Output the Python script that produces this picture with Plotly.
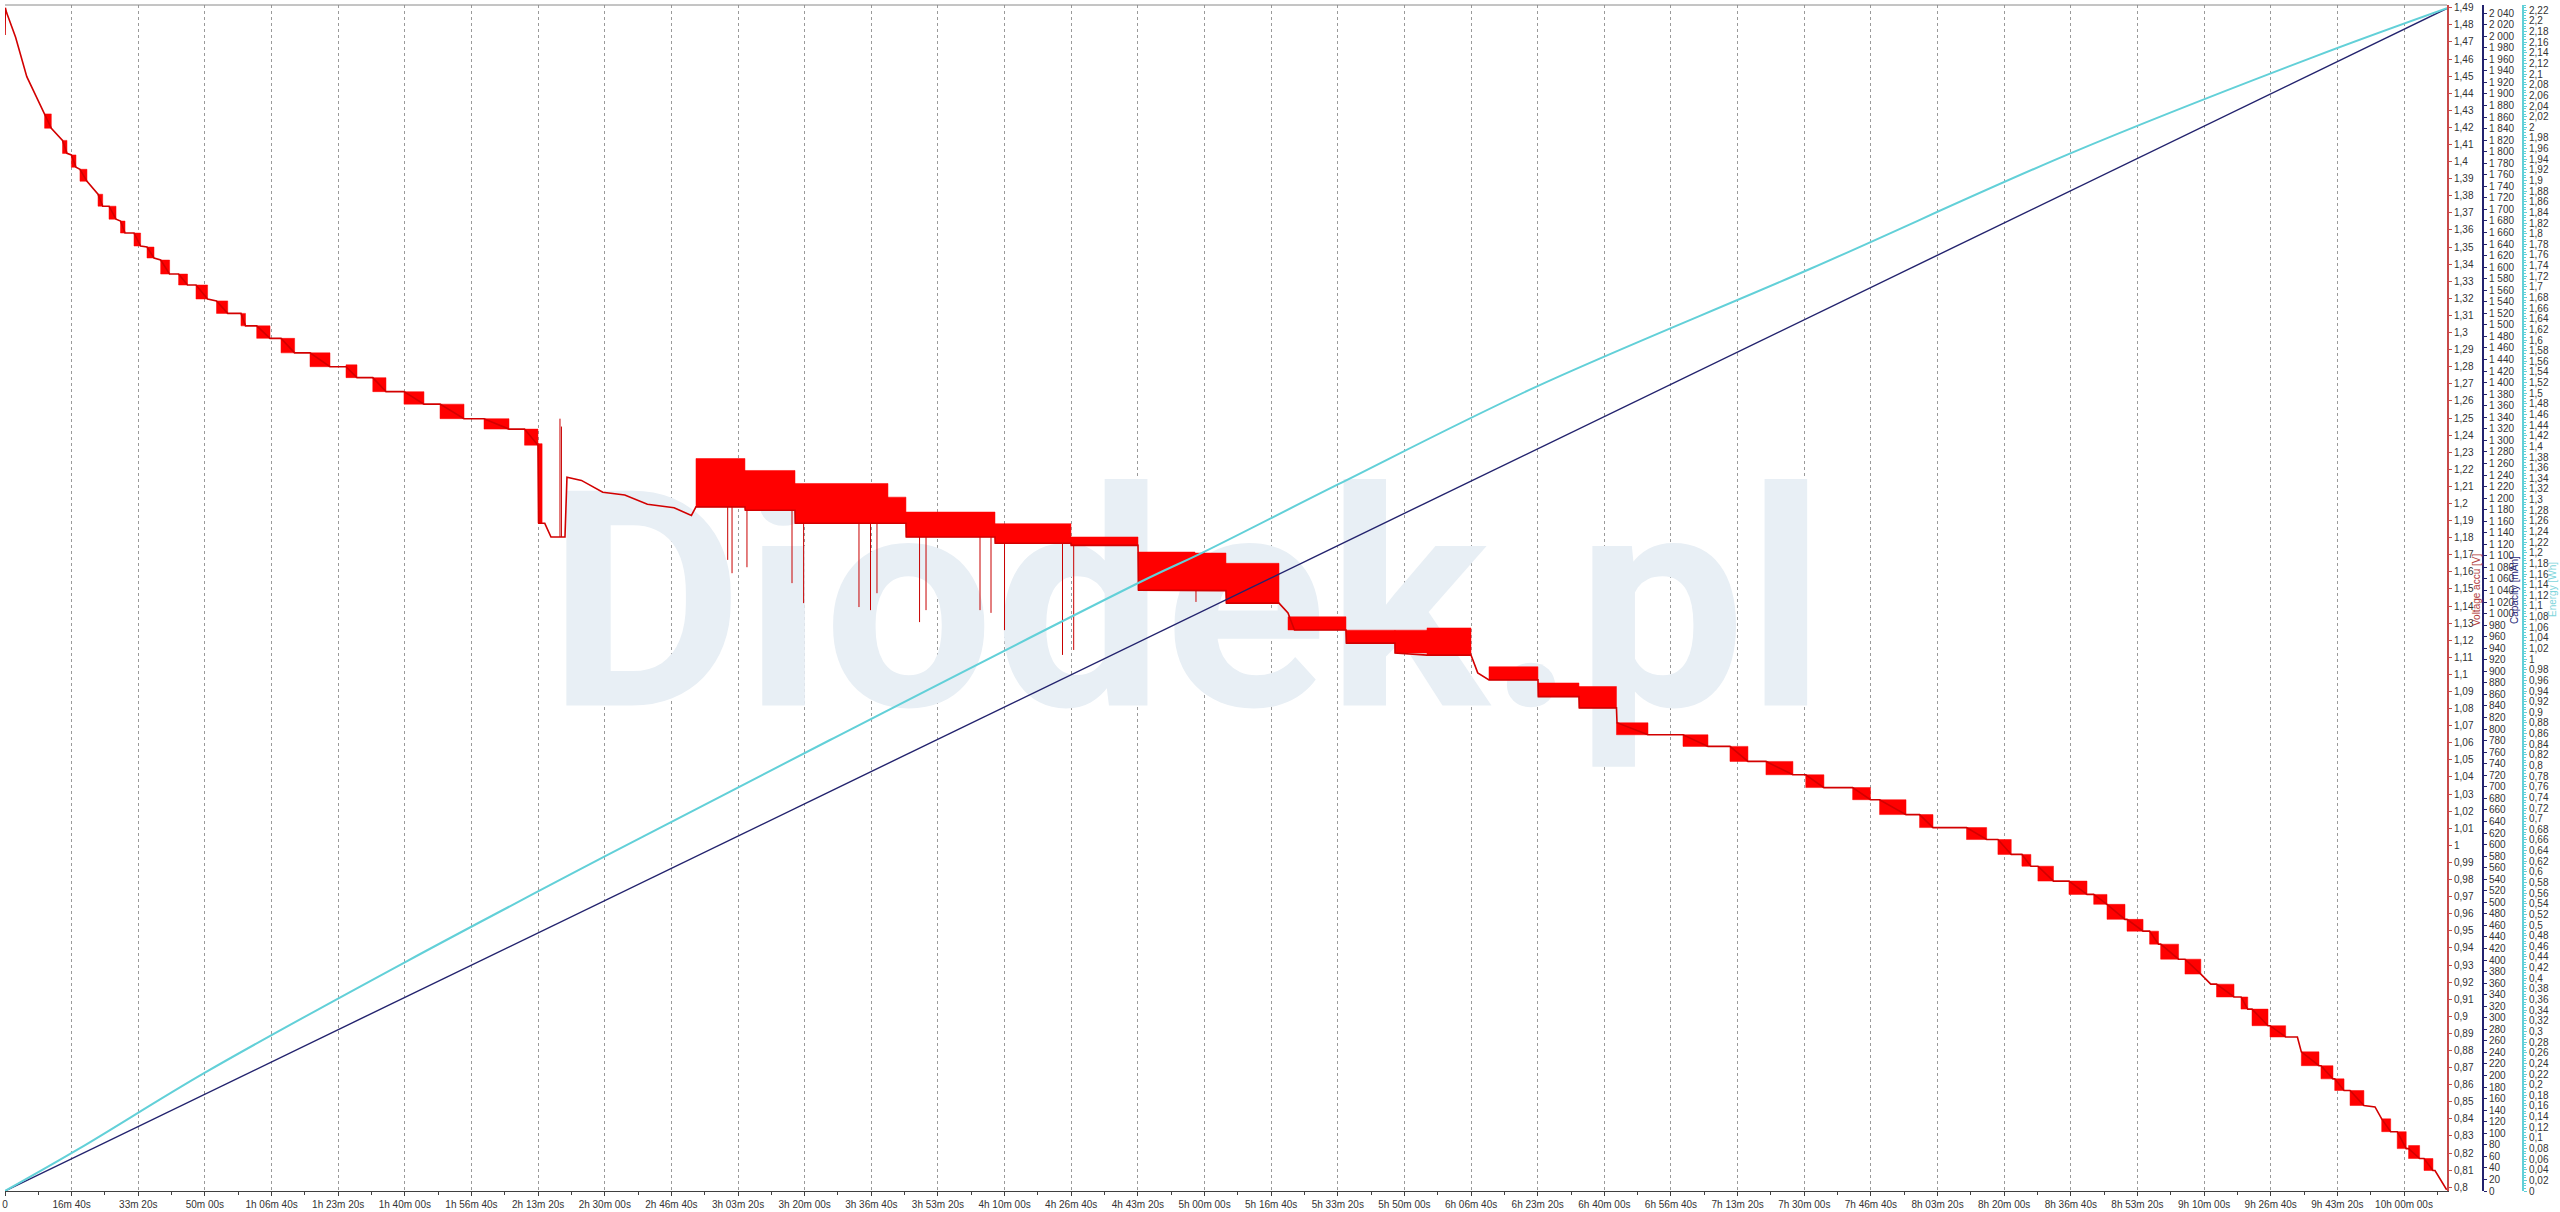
import numpy as np
import plotly.graph_objects as go

# ---------------- data ----------------
# time in seconds, voltage in V
base_t = [0, 5, 25, 159, 327, 594, 695, 863, 930, 996, 1065, 1125, 1230, 1396, 1466, 1561, 1666,
          1733, 1801, 1936, 2035, 2131, 2236, 2336, 2470, 2605, 2739, 2866, 3040, 3174, 3342, 3541,
          3609, 3777, 3977, 4142, 4346, 4577, 4877, 5117, 5282, 5519, 5717, 5987, 6287, 6528, 6888,
          7188, 7563, 7796, 7998, 8010, 8100, 8193, 8403, 8433, 8650, 8970, 9300, 9640, 10040, 10300,
          10369, 11104, 11110, 11855, 11860, 13520, 13525, 14856, 14860, 15996, 16000, 17002, 17010,
          18322, 18330, 19118, 19253, 19350, 20123, 20130, 20858, 20860, 21339, 21999, 22100, 22269,
          23004, 23010, 23619, 23625, 24182, 24190, 24655, 25180, 25555, 25885, 26155, 26425, 26830,
          27022, 27295, 27726, 27993, 28130, 28527, 28730, 28932, 29435, 29737, 29906, 30106, 30266,
          30401, 30506, 30740, 30972, 31243, 31343, 31543, 31813, 31843, 32084, 32182, 32316, 32348,
          32617, 32713, 32951, 33100, 33186, 33449, 33554, 33655, 33719, 33959, 33989, 34224, 34400,
          34459, 34724, 34754, 34934, 34960, 35100, 35190, 35398, 35565, 35665, 35800, 35898, 36033,
          36068, 36234, 36300, 36434, 36465, 36600, 36640]
base_v = [1.474, 1.49, 1.487, 1.4727, 1.4497, 1.4279, 1.4195, 1.4124, 1.4048, 1.4039, 1.3967, 1.3955,
          1.3885, 1.3809, 1.3739, 1.3739, 1.3663, 1.3652, 1.3582, 1.3582, 1.3506, 1.35, 1.3436, 1.3424,
          1.3342, 1.3342, 1.3278, 1.3278, 1.3196, 1.3185, 1.3112, 1.3112, 1.3039, 1.3039, 1.2966, 1.2966,
          1.2881, 1.2881, 1.28, 1.28, 1.2736, 1.2736, 1.2654, 1.2654, 1.2581, 1.2581, 1.2496, 1.2496,
          1.2435, 1.2435, 1.2341, 1.1884, 1.1884, 1.1804, 1.1804, 1.2154, 1.2135, 1.2066, 1.205, 1.1995,
          1.1975, 1.193, 1.198, 1.198, 1.196, 1.196, 1.1884, 1.1884, 1.1804, 1.1804, 1.1767, 1.1767,
          1.1755, 1.1755, 1.1493, 1.149, 1.1417, 1.1417, 1.1359, 1.126, 1.126, 1.1183, 1.1183, 1.1125,
          1.1113, 1.1113, 1.1009, 1.0968, 1.0968, 1.087, 1.087, 1.0804, 1.0804, 1.0717, 1.0647, 1.0647,
          1.0579, 1.0579, 1.0491, 1.0491, 1.0413, 1.0413, 1.0338, 1.0338, 1.0267, 1.0267, 1.018, 1.018,
          1.0104, 1.0104, 1.0034, 1.0034, 0.9947, 0.9947, 0.9878, 0.9878, 0.9791, 0.9791, 0.9713, 0.9713,
          0.9655, 0.9567, 0.9567, 0.9498, 0.9498, 0.9422, 0.9422, 0.9334, 0.9334, 0.9247, 0.9188, 0.9188,
          0.9113, 0.9113, 0.9042, 0.9042, 0.8945, 0.8945, 0.8879, 0.8879, 0.8792, 0.8711, 0.8711, 0.8634,
          0.8634, 0.8566, 0.8566, 0.8478, 0.847, 0.84, 0.8325, 0.8325, 0.8226, 0.8226, 0.8168, 0.8168,
          0.8098, 0.8098, 0.8012, 0.7985]

# noisy blocks: start, end, lower voltage, upper voltage
blk_t0 = [594, 863, 996, 1125, 1396, 1561, 1733, 1936, 2131, 2336, 2605, 2866, 3174, 3541, 3777, 4142,
          4577, 5117, 5519, 5987, 6528, 7188, 7796, 7998,
          10369, 11104, 11855, 13250, 13520, 14856, 15996, 17002, 17857, 18322, 19253, 20123, 20858,
          21339, 22269, 23004, 23619, 24182,
          25180, 25885, 26425, 27022, 27726, 28130, 28730, 29435, 29906, 30266, 30506, 30972, 31343,
          31543, 31843, 32182, 32348, 32713, 33186, 33554, 33719, 33989, 34459, 34754, 34960, 35190,
          35665, 35898, 36068, 36300]
blk_t1 = [695, 930, 1065, 1230, 1466, 1666, 1801, 2035, 2236, 2470, 2739, 3040, 3342, 3609, 3977, 4346,
          4877, 5282, 5717, 6287, 6888, 7563, 7998, 8060,
          11104, 11855, 13250, 13520, 14856, 15996, 17002, 17857, 18322, 19118, 20123, 20858, 21339,
          21999, 23004, 23619, 24182, 24655,
          25555, 26155, 26830, 27295, 27993, 28527, 28932, 29737, 30106, 30401, 30740, 31243, 31543,
          31813, 32084, 32316, 32617, 32951, 33449, 33655, 33959, 34224, 34724, 34934, 35100, 35398,
          35800, 36033, 36234, 36434]
blk_lo = [1.4195, 1.4048, 1.3967, 1.3885, 1.3739, 1.3663, 1.3582, 1.3506, 1.3436, 1.3342, 1.3278, 1.3196,
          1.3112, 1.3039, 1.2966, 1.2881, 1.28, 1.2736, 1.2654, 1.2581, 1.2496, 1.2435, 1.2341, 1.1884,
          1.198, 1.196, 1.1884, 1.1884, 1.1804, 1.1767, 1.1755, 1.1493, 1.149, 1.1417, 1.126, 1.1183,
          1.1125, 1.1113, 1.0968, 1.087, 1.0804, 1.0647,
          1.0579, 1.0491, 1.0413, 1.0338, 1.0267, 1.018, 1.0104, 1.0034, 0.9947, 0.9878, 0.9791, 0.9713,
          0.9655, 0.9567, 0.9498, 0.9422, 0.9334, 0.9247, 0.9113, 0.9042, 0.8945, 0.8879, 0.8711, 0.8634,
          0.8566, 0.8478, 0.8325, 0.8226, 0.8168, 0.8098]
blk_hi = [1.4279, 1.4124, 1.4039, 1.3955, 1.3809, 1.3739, 1.3652, 1.3582, 1.35, 1.3424, 1.3342, 1.3278,
          1.3185, 1.3112, 1.3039, 1.2966, 1.2881, 1.2811, 1.2736, 1.2654, 1.2581, 1.2496, 1.2435, 1.235,
          1.2263, 1.2193, 1.2117, 1.2037, 1.195, 1.1882, 1.1804, 1.1716, 1.171, 1.165, 1.1337, 1.1259,
          1.1259, 1.1272, 1.1045, 1.095, 1.0929, 1.0717,
          1.0647, 1.0579, 1.0491, 1.0413, 1.0338, 1.0267, 1.018, 1.0104, 1.0034, 0.9947, 0.9878, 0.9791,
          0.9713, 0.9655, 0.9567, 0.9498, 0.9422, 0.9334, 0.9188, 0.9113, 0.9042, 0.8945, 0.8792, 0.8711,
          0.8634, 0.8566, 0.84, 0.8325, 0.8244, 0.8168]

# single spikes: time, extreme voltage
spike_t = [8328, 8350, 10845, 10910, 11134, 11810, 11984, 12815, 12988, 13085, 13724, 13821, 14631,
           14796, 14999, 15869, 16037, 17872]
spike_v = [1.2496, 1.245, 1.167, 1.1592, 1.1627, 1.1534, 1.1417, 1.1394, 1.1376, 1.1475, 1.1306, 1.1376,
           1.1376, 1.136, 1.1259, 1.1114, 1.1143, 1.1424]

# capacity [mAh] and energy [Wh]
cap_t = [0, 36645]
cap_q = [0, 2048]
en_t = [0, 1125, 3000, 6000, 9000, 12380, 17182, 17932, 20010, 22940, 27101, 31002, 34648, 36645]
en_e = [0, 0.0805, 0.2225, 0.430, 0.629, 0.848, 1.154, 1.198, 1.329, 1.510, 1.7345, 1.9515, 2.1325, 2.224]

x_ticks = list(range(0, 36001, 1000))
volt_ticks = np.round(np.arange(0.80, 1.4901, 0.01), 2)
cap_ticks = list(range(0, 2041, 20))
en_ticks = np.round(np.arange(0, 2.2201, 0.02), 2)


# ---------------- helpers ----------------
def fmt_time(s):
    if s == 0:
        return "0"
    h, r = divmod(s, 3600)
    m, sec = divmod(r, 60)
    if h == 0:
        return f"{m}m {sec:02d}s"
    return f"{h}h {m:02d}m {sec:02d}s"


def fmt_dec(v):
    s = f"{v:.2f}".rstrip("0").rstrip(".")
    return s.replace(".", ",")


def fmt_int(v):
    return f"{v:,}".replace(",", " ")


FONT = "Liberation Sans, Arial, sans-serif"
RED = "#ff0000"
RED_LINE = "#d20000"
NAVY = "#23236e"
CYAN = "#62d0d8"

fig = go.Figure()

# watermark
fig.add_trace(go.Scatter(x=[17730], y=[1.126], mode="text", text=["Diodek.pl"],
                         textfont=dict(family="Roboto", size=302, color="#e8eff5", weight="bold"),
                         hoverinfo="skip", yaxis="y"))

# noisy blocks
bx, by = [], []
for t0, t1, lo, hi in zip(blk_t0, blk_t1, blk_lo, blk_hi):
    bx += [t0, t1, t1, t0, t0, None]
    by += [lo, lo, hi, hi, lo, None]
fig.add_trace(go.Scatter(x=bx, y=by, mode="lines", fill="toself", fillcolor=RED,
                         line=dict(color=RED, width=0.5), hoverinfo="skip", yaxis="y"))

# spikes
sx, sy = [], []
for t, v in zip(spike_t, spike_v):
    b = float(np.interp(t, base_t, base_v))
    sx += [t, t, None]
    sy += [b, v, None]
fig.add_trace(go.Scatter(x=sx, y=sy, mode="lines", line=dict(color="#c80000", width=1),
                         hoverinfo="skip", yaxis="y"))

# voltage baseline
fig.add_trace(go.Scatter(x=base_t, y=base_v, mode="lines", line=dict(color=RED_LINE, width=1.6),
                         name="Voltage accu [V]", yaxis="y"))

# capacity & energy
fig.add_trace(go.Scatter(x=cap_t, y=cap_q, mode="lines", line=dict(color=NAVY, width=1.4),
                         name="Capacity [mAh]", yaxis="y2"))
fig.add_trace(go.Scatter(x=en_t, y=en_e, mode="lines", line=dict(color=CYAN, width=2, shape="spline"),
                         name="Energy [Wh]", yaxis="y3"))

W_PAPER = 2560 - 5 - 2
dom_end = 2442 / W_PAPER
pos_cap = 2478 / W_PAPER
pos_en = 2518 / W_PAPER


def px_x(px):
    return (px - 5) / W_PAPER


title_y = (1193 - 590) / 1190

tickfont = dict(family=FONT, size=10, color="#333333")

fig.update_layout(
    width=2560, height=1212,
    margin=dict(l=5, r=2, t=3, b=19),
    paper_bgcolor="white", plot_bgcolor="white",
    showlegend=False,
    font=dict(family=FONT, size=10, color="#333333"),
    xaxis=dict(
        domain=[0, dom_end], range=[0, 36645],
        tickmode="array", tickvals=x_ticks, ticktext=[fmt_time(s) for s in x_ticks],
        showgrid=True, gridcolor="#9a9a9a", griddash="dot", gridwidth=1,
        showline=True, linecolor="#404040", linewidth=1,
        ticks="outside", ticklen=4, tickcolor="#404040", tickfont=tickfont,
        minor=dict(tickmode="array", tickvals=[s + 500 for s in x_ticks[:-1]] + [36500],
                   ticks="outside", ticklen=3, tickcolor="#404040", showgrid=False),
        zeroline=False,
    ),
    yaxis=dict(
        side="right", range=[0.7978, 1.4916],
        tickmode="array", tickvals=list(volt_ticks), ticktext=[fmt_dec(v) for v in volt_ticks],
        showgrid=False, zeroline=False,
        showline=True, linecolor="#c84848", linewidth=2,
        ticks="outside", ticklen=3, tickcolor="#c84848", tickfont=tickfont,
    ),
    yaxis2=dict(
        overlaying="y", side="right", anchor="free", position=pos_cap, range=[0, 2054],
        tickmode="array", tickvals=cap_ticks, ticktext=[fmt_int(v) for v in cap_ticks],
        showgrid=False, zeroline=False,
        showline=True, linecolor=NAVY, linewidth=2,
        ticks="outside", ticklen=3, tickcolor=NAVY, tickfont=tickfont,
    ),
    yaxis3=dict(
        overlaying="y", side="right", anchor="free", position=pos_en, range=[0, 2.23],
        tickmode="array", tickvals=list(en_ticks), ticktext=[fmt_dec(v) for v in en_ticks],
        showgrid=False, zeroline=False,
        showline=True, linecolor=CYAN, linewidth=2,
        ticks="outside", ticklen=3, tickcolor=CYAN, tickfont=tickfont,
        minor=dict(dtick=0.005, ticks="outside", ticklen=2, tickcolor=CYAN, showgrid=False),
    ),
    shapes=[dict(type="line", xref="x domain", yref="y domain", x0=0, x1=1, y0=1, y1=1,
                 line=dict(color="#8a8a8a", width=1))],
    annotations=[
        dict(text="Voltage accu [V]", xref="paper", yref="paper", x=px_x(2476), y=title_y,
             textangle=-90, showarrow=False, xanchor="center", yanchor="middle",
             font=dict(family=FONT, size=10, color="#b03a3a")),
        dict(text="Capacity [mAh]", xref="paper", yref="paper", x=px_x(2514), y=title_y,
             textangle=-90, showarrow=False, xanchor="center", yanchor="middle",
             font=dict(family=FONT, size=10, color="#2a2a7a")),
        dict(text="Energy [Wh]", xref="paper", yref="paper", x=px_x(2552), y=title_y,
             textangle=-90, showarrow=False, xanchor="center", yanchor="middle",
             font=dict(family=FONT, size=10, color="#7fd5dc")),
    ],
)

fig.write_html("out.html", config={"displayModeBar": False},
               post_script="document.body.style.margin='0';")
